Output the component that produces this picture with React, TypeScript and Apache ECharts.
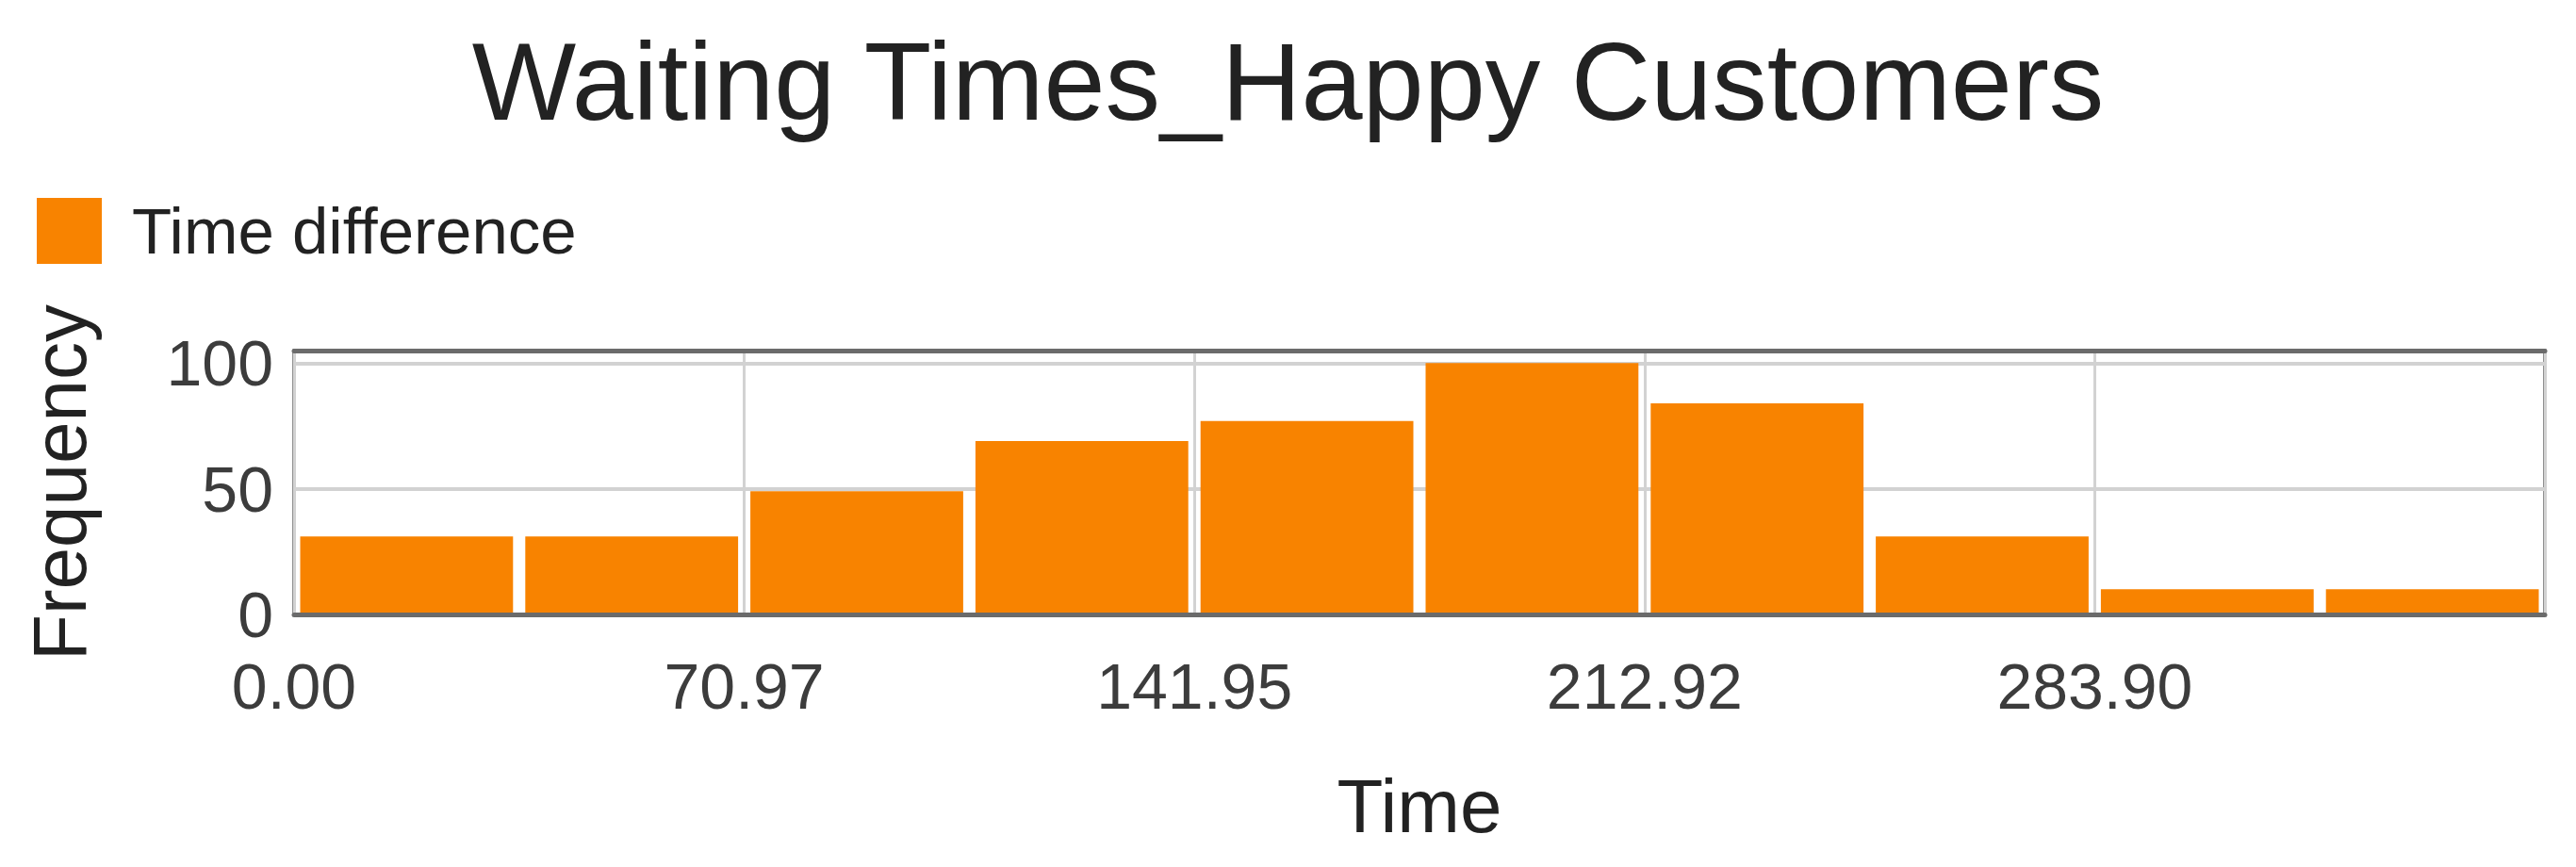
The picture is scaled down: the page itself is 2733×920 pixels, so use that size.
import React, { useEffect, useRef } from 'react';
import * as echarts from 'echarts';

const titleText = 'Waiting Times_Happy Customers';
const seriesName = 'Time difference';
const xAxisName = 'Time';
const yAxisName = 'Frequency';
const binStart = 0;
const binWidth = 35.4875;
const frequencies = [31, 31, 49, 69, 77, 100, 84, 31, 10, 10];
const xTickLabels = ['0.00', '70.97', '141.95', '212.92', '283.90'];
const yTickLabels = ['0', '50', '100'];
const yMax = 105;
const yInterval = 50;

const FONT = '"Liberation Sans", Arial, sans-serif';
const BAR_COLOR = '#f88300';

export default function App() {
  const ref = useRef<HTMLDivElement>(null);

  useEffect(() => {
    if (!ref.current) return;
    const chart = echarts.init(ref.current, null, { renderer: 'svg' });
    const xMax = binStart + binWidth * frequencies.length;
    const data = frequencies.map((f, i) => [binStart + i * binWidth, binStart + (i + 1) * binWidth, f]);

    chart.setOption({
      animation: false,
      backgroundColor: '#ffffff',
      title: {
        text: titleText,
        left: 'center',
        top: 28,
        padding: [0, 0, 0, 44],
        textStyle: { fontFamily: FONT, fontSize: 117, lineHeight: 117, fontWeight: 'normal', color: '#222' },
      },
      legend: {
        data: [seriesName],
        left: 39,
        top: 210,
        padding: 0,
        icon: 'rect',
        itemWidth: 69,
        itemHeight: 70,
        selectedMode: false,
        textStyle: { fontFamily: FONT, fontSize: 69, color: '#222', padding: [0, 0, 0, 27] },
      },
      grid: {
        left: 312,
        right: 33,
        top: 372,
        bottom: 268,
        show: true,
        borderColor: '#222',
        borderWidth: 3,
        backgroundColor: 'transparent',
      },
      xAxis: [
        {
          type: 'value',
          min: binStart,
          max: xMax,
          interval: binWidth * 2,
          z: 5,
          name: xAxisName,
          nameLocation: 'middle',
          nameGap: 163,
          nameTextStyle: { fontFamily: FONT, fontSize: 80, lineHeight: 80, color: '#222' },
          axisLine: { show: true, lineStyle: { color: '#6b6b6b', width: 5 } },
          axisTick: { show: false },
          splitLine: { show: true, lineStyle: { color: '#d2d2d2', width: 3 } },
          axisLabel: {
            fontFamily: FONT,
            fontSize: 68,
            lineHeight: 68,
            color: '#3c3c3c',
            margin: 42,
            showMaxLabel: false,
            formatter: (_v: number, i: number) => xTickLabels[i] ?? '',
          },
        },
        {
          type: 'value',
          position: 'top',
          min: binStart,
          max: xMax,
          z: 5,
          axisLine: { show: true, lineStyle: { color: '#6b6b6b', width: 5 } },
          axisTick: { show: false },
          axisLabel: { show: false },
          splitLine: { show: false },
        },
      ],
      yAxis: {
        type: 'value',
        min: 0,
        max: yMax,
        interval: yInterval,
        name: yAxisName,
        nameLocation: 'middle',
        nameGap: 209,
        nameRotate: 90,
        nameTextStyle: { fontFamily: FONT, fontSize: 80, lineHeight: 80, color: '#222' },
        axisLine: { show: true, lineStyle: { color: '#222', width: 3 } },
        axisTick: { show: false },
        splitLine: { show: true, lineStyle: { color: '#d2d2d2', width: 4 } },
        axisLabel: {
          fontFamily: FONT,
          fontSize: 68,
          lineHeight: 68,
          color: '#3c3c3c',
          margin: 22,
          padding: [0, 0, 10, 0],
          showMaxLabel: false,
          formatter: (_v: number, i: number) => yTickLabels[i] ?? '',
        },
      },
      series: [
        {
          name: seriesName,
          type: 'custom',
          xAxisIndex: 0,
          yAxisIndex: 0,
          itemStyle: { color: BAR_COLOR },
          encode: { x: [0, 1], y: 2 },
          data,
          renderItem: (_params: any, api: any) => {
            const p0 = api.coord([api.value(0), api.value(2)]);
            const p1 = api.coord([api.value(1), 0]);
            const gap = 6.5;
            return {
              type: 'rect',
              shape: { x: p0[0] + gap, y: p0[1], width: p1[0] - p0[0] - 2 * gap, height: p1[1] - p0[1] },
              style: { fill: BAR_COLOR },
            };
          },
        },
      ],
    });

    return () => chart.dispose();
  }, []);

  return (
    <div
      ref={ref}
      style={{ position: 'fixed', left: 0, top: 0, width: 2733, height: 920, background: '#fff' }}
    />
  );
}
